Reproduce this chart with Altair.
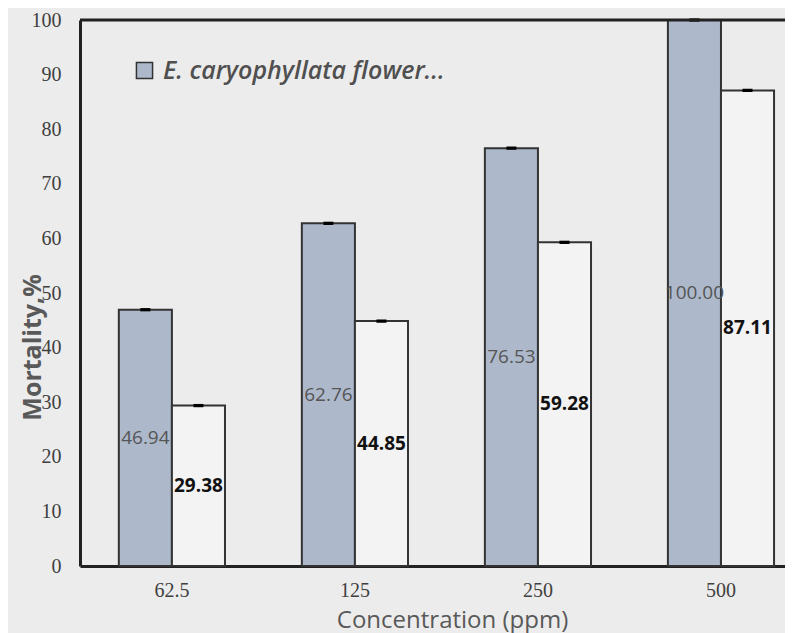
import altair as alt
import pandas as pd

concentrations = ["62.5", "125", "250", "500"]
series_names = ["E. caryophyllata flower...", "Series 2"]
flower_values = [46.94, 62.76, 76.53, 100.00]
second_values = [29.38, 44.85, 59.28, 87.11]
flower_err = [0.3, 0.3, 0.3, 0.3]
second_err = [0.3, 0.3, 0.3, 0.3]

rows = []
for c, v, e in zip(concentrations, flower_values, flower_err):
    rows.append({"conc": c, "series": series_names[0], "value": v, "err": e})
for c, v, e in zip(concentrations, second_values, second_err):
    rows.append({"conc": c, "series": series_names[1], "value": v, "err": e})
df = pd.DataFrame(rows)
df["label"] = df["value"].map(lambda v: f"{v:.2f}")
df["mid"] = df["value"] / 2
df["lo"] = df["value"] - df["err"]
df["hi"] = df["value"] + df["err"]

x_enc = alt.X(
    "conc:N",
    sort=concentrations,
    scale=alt.Scale(paddingInner=0.42, paddingOuter=0.136, align=0.78),
    axis=alt.Axis(
        title="Concentration (ppm)",
        labelAngle=0,
        ticks=False,
        labelPadding=14,
        labelFont="Liberation Serif",
        labelFontSize=20,
        labelColor="#404040",
        domainColor="#222222",
        domainWidth=3,
        titleFont="Open Sans",
        titleFontSize=24,
        titleFontWeight="normal",
        titleColor="#595959",
        titleX=372,
        titleY=54,
        titleBaseline="middle",
        titleAnchor="middle",
        titleAlign="center",
    ),
)
xoff = alt.XOffset("series:N", sort=series_names, scale=alt.Scale(domain=series_names))

y_scale = alt.Scale(domain=[0, 100], nice=False)

base = alt.Chart(df)

bars = base.mark_bar(stroke="#333333", strokeWidth=2).encode(
    x=x_enc,
    xOffset=xoff,
    y=alt.Y(
        "value:Q",
        scale=y_scale,
        axis=alt.Axis(
            title="Mortality,%",
            values=[0, 10, 20, 30, 40, 50, 60, 70, 80, 90, 100],
            grid=False,
            ticks=False,
            labelPadding=19,
            labelFont="Liberation Serif",
            labelFontSize=20,
            labelColor="#404040",
            domainColor="#222222",
            domainWidth=3,
            titleFont="Open Sans",
            titleFontSize=25,
            titleFontWeight="bold",
            titleColor="#595959",
            titleX=-48,
            titleY=327,
            titleBaseline="middle",
            titleAlign="center",
        ),
    ),
    fill=alt.Fill(
        "series:N",
        scale=alt.Scale(domain=series_names, range=["#adb9cb", "#f3f3f3"]),
        legend=alt.Legend(
            title=None,
            values=[series_names[0]],
            orient="none",
            legendX=52,
            legendY=38,
            symbolType="square",
            symbolSize=260,
            symbolStrokeColor="#333333",
            symbolStrokeWidth=1.5,
            labelFont="Open Sans",
            labelFontStyle="italic",
            labelFontWeight=600,
            labelFontSize=25,
            labelColor="#505050",
            labelLimit=450,
            labelOffset=6,
        ),
    ),
)

errs = base.mark_bar(color="black", size=10).encode(
    x=alt.X("conc:N", sort=concentrations),
    xOffset=xoff,
    y=alt.Y("lo:Q", scale=y_scale),
    y2="hi:Q",
)

labels_flower = base.transform_filter(
    alt.datum.series == series_names[0]
).mark_text(font="Open Sans", fontSize=19, color="#555555", baseline="middle").encode(
    x=alt.X("conc:N", sort=concentrations),
    xOffset=xoff,
    y=alt.Y("mid:Q", scale=y_scale),
    text="label:N",
)

labels_second = base.transform_filter(
    alt.datum.series == series_names[1]
).mark_text(font="Open Sans", fontSize=19, fontWeight="bold", color="#111111", baseline="middle").encode(
    x=alt.X("conc:N", sort=concentrations),
    xOffset=xoff,
    y=alt.Y("mid:Q", scale=y_scale),
    text="label:N",
)

top_line = alt.Chart(pd.DataFrame({"top": [100]})).mark_rule(color="#222222", strokeWidth=3).encode(
    y=alt.Y("top:Q", scale=y_scale)
)

chart = alt.layer(bars, errs, labels_flower, labels_second, top_line).properties(
    width=705,
    height=546,
    autosize=alt.AutoSizeParams(type="none"),
    padding={"left": 72, "top": 12, "right": 0, "bottom": 67},
    background="#ececec",
).configure_view(stroke=None)

chart.save("out.html", embed_options={"renderer": "svg", "actions": False})
